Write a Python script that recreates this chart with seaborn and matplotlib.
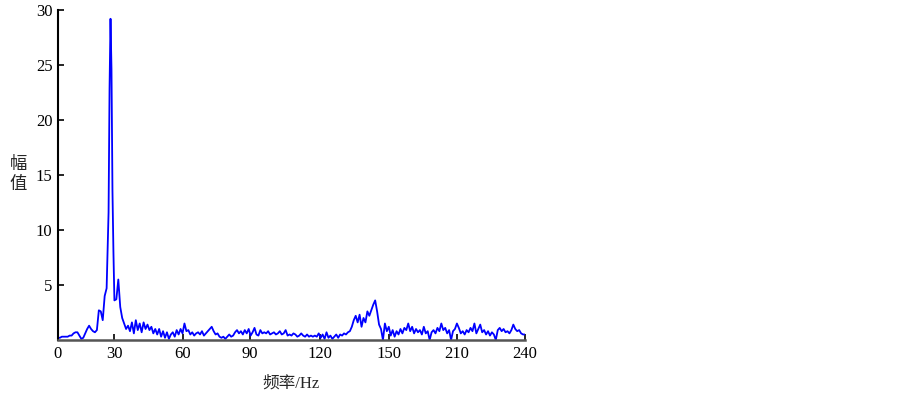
import matplotlib
matplotlib.use('Agg')
import matplotlib.pyplot as plt
import seaborn as sns

# Spectrum trace (x in axis units, 0..240)
freq = (list(range(0, 26)) + [26, 26.5, 27, 27.5, 28, 28.5, 29]
        + list(range(30, 241)))
amp = [
    0.2, 0.2, 0.3, 0.3, 0.3, 0.3, 0.4, 0.4, 0.6, 0.7,
    0.7, 0.4, 0.1, 0.2, 0.6, 1.0, 1.3, 1.0, 0.8, 0.7,
    0.9, 2.7, 2.6, 1.8, 4.0, 4.7,
    11.6, 22.8, 29.2, 24.6, 13.6, 8.0, 3.6,
    3.7, 5.5, 3.0, 2.0, 1.5, 1.0, 1.3, 0.8, 1.6, 0.6,
    1.8, 0.9, 1.5, 0.7, 1.6, 1.0, 1.4, 0.9, 1.2, 0.6,
    1.0, 0.5, 1.0, 0.3, 0.8, 0.2, 0.7, 0.1, 0.5, 0.7,
    0.3, 0.9, 0.5, 1.0, 0.6, 1.5, 0.8, 0.9, 0.5, 0.7,
    0.4, 0.6, 0.7, 0.5, 0.8, 0.4, 0.6, 0.8, 1.0, 1.2,
    0.8, 0.5, 0.6, 0.3, 0.2, 0.3, 0.1, 0.3, 0.5, 0.3,
    0.4, 0.7, 0.9, 0.6, 0.8, 0.5, 0.9, 0.6, 1.0, 0.4,
    0.7, 1.1, 0.5, 0.4, 0.9, 0.6, 0.7, 0.6, 0.8, 0.5,
    0.6, 0.7, 0.5, 0.6, 0.8, 0.5, 0.6, 0.9, 0.4, 0.5,
    0.4, 0.6, 0.5, 0.3, 0.4, 0.6, 0.4, 0.3, 0.5, 0.3,
    0.4, 0.3, 0.4, 0.3, 0.6, 0.2, 0.5, 0.1, 0.7, 0.2,
    0.4, 0.1, 0.3, 0.5, 0.2, 0.5, 0.4, 0.6, 0.5, 0.7,
    0.8, 1.2, 1.8, 2.2, 1.6, 2.3, 1.2, 2.0, 1.6, 2.6,
    2.2, 2.7, 3.2, 3.6, 2.6, 1.4, 1.0, 0.0, 1.5, 0.8,
    1.2, 0.4, 0.9, 0.3, 0.8, 0.5, 1.0, 0.6, 1.1, 0.9,
    1.5, 0.8, 1.2, 0.6, 1.0, 0.7, 0.9, 0.5, 1.2, 0.6,
    0.8, 0.0, 0.7, 0.9, 0.6, 1.1, 0.8, 1.5, 0.9, 1.1,
    0.6, 0.9, 0.0, 0.8, 1.0, 1.5, 1.1, 0.6, 0.8, 0.5,
    0.9, 0.7, 1.1, 0.8, 1.5, 0.6, 1.0, 1.4, 0.7, 0.9,
    0.5, 0.8, 0.4, 0.7, 0.5, 0.0, 0.9, 1.1, 0.8, 1.0,
    0.7, 0.8, 0.6, 0.9, 1.4, 1.0, 0.8, 0.9, 0.6, 0.5,
    0.5,
]

# tick labels as printed (positions are not evenly spaced in the original)
xtick_pos = [0, 28.8, 64.2, 98.6, 134.6, 170.1, 205.0, 240]
xtick_labels = ['0', '30', '60', '90', '120', '150', '210', '240']
ytick_pos = [5, 10, 15, 20, 25, 30]

sns.set_style('ticks')
plt.rcParams['font.family'] = ['Liberation Serif', 'Noto Sans CJK SC']

fig = plt.figure(figsize=(9.03, 3.93), dpi=100)
ax = fig.add_axes([0.0642, 0.1349, 0.5172, 0.8397])

sns.lineplot(x=freq, y=amp, ax=ax, color='#0000ff', linewidth=1.3)

ax.set_xlim(0, 240)
ax.set_ylim(0, 30)
ax.set_xticks(xtick_pos)
ax.set_xticklabels(xtick_labels)
ax.set_yticks(ytick_pos)
ax.tick_params(direction='in', length=4.5, width=1.2, labelsize=12,
               colors='black', pad=4)

sns.despine(ax=ax)
ax.spines['left'].set_linewidth(1.5)
ax.spines['left'].set_color('black')
ax.spines['bottom'].set_linewidth(1.8)
ax.spines['bottom'].set_color('#555555')

ax.set_xlabel('频率/Hz', fontsize=12, labelpad=10)
ax.set_ylabel('幅\n值', fontsize=12.5, rotation=0, labelpad=0,
              linespacing=1.35, va='center', ha='center')
ax.yaxis.set_label_coords(-0.085, 0.5)

fig.savefig('out.png', dpi=100)
